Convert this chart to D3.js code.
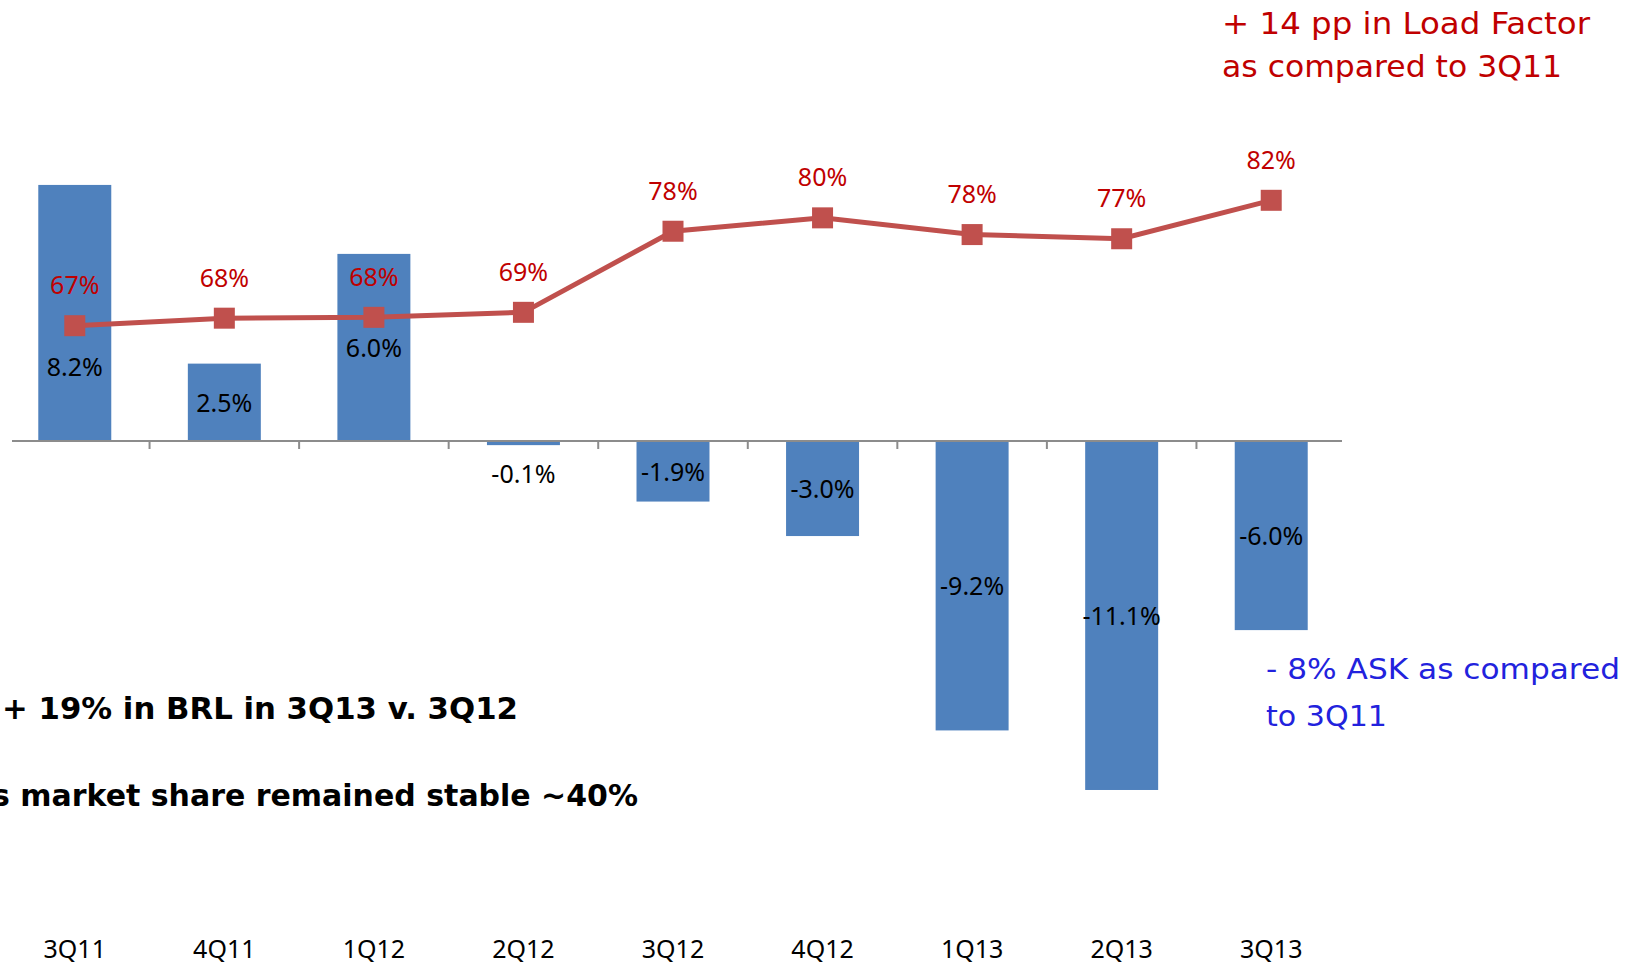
<!DOCTYPE html>
<html><head><meta charset="utf-8">
<script src="https://cdn.jsdelivr.net/npm/d3@7"></script>
<style>body{margin:0;background:#fff;overflow:hidden}</style>
</head><body>
<svg id="chart" width="1641" height="965"></svg>
<script>
// ---- data ----
const categories = ["3Q11","4Q11","1Q12","2Q12","3Q12","4Q12","1Q13","2Q13","3Q13"];
const askChange = [8.2, 2.5, 6.0, -0.1, -1.9, -3.0, -9.2, -11.1, -6.0];
const loadFactor = [67.0, 67.9, 68.0, 68.6, 78.3, 79.9, 77.9, 77.4, 82.0];
const annotationLF = ["+ 14 pp in Load Factor", "as compared to 3Q11"];
const annotationASK = ["- 8% ASK as compared", "to 3Q11"];
const notes = ["+ 19% in BRL in 3Q13 v. 3Q12", "s market share remained stable ~40%"];

// ---- setup ----
const svg = d3.select("#chart");
const loc = d3.formatLocale({decimal: ".", thousands: ",", grouping: [3], currency: ["$", ""], minus: "-"});
const fmtBar = v => loc.format(".1f")(v) + "%";
const fmtLine = v => loc.format(".0f")(v) + "%";

const x = d3.scaleBand().domain(categories).range([0, 1346]).paddingInner(0.512).paddingOuter(0.256);
const yBar = d3.scaleLinear().domain([-12, 9]).range([818.2, 159.85]);
const yLine = d3.scaleLinear().domain([67, 82]).range([325.7, 200.3]);
const cx = c => x(c) + x.bandwidth() / 2;
const y0 = yBar(0);

const barData = categories.map((c, i) => ({c, v: askChange[i], lf: loadFactor[i]}));

// bars
svg.append("g").selectAll("rect").data(barData).join("rect")
  .attr("x", d => x(d.c))
  .attr("width", x.bandwidth())
  .attr("y", d => Math.min(yBar(d.v), y0))
  .attr("height", d => Math.abs(yBar(d.v) - y0))
  .attr("fill", "#4f81bd");

// axis line + ticks between categories
const axisG = svg.append("g");
axisG.append("line").attr("x1", 12).attr("x2", 1342).attr("y1", y0 - 1).attr("y2", y0 - 1)
  .attr("stroke", "#8c8c8c").attr("stroke-width", 2);
const gap = (x.step() - x.bandwidth()) / 2;
axisG.selectAll("line.tick").data(categories.slice(1)).join("line").attr("class", "tick")
  .attr("x1", c => x(c) - gap).attr("x2", c => x(c) - gap)
  .attr("y1", y0 - 1).attr("y2", y0 + 7)
  .attr("stroke", "#8c8c8c").attr("stroke-width", 2);

// category labels
svg.append("g").selectAll("text").data(categories).join("text")
  .attr("x", cx).attr("y", 958)
  .attr("text-anchor", "middle")
  .attr("font-family", "'Noto Sans', sans-serif").attr("font-size", 25)
  .attr("fill", "#000")
  .text(c => c);

// bar labels
svg.append("g").selectAll("text").data(barData).join("text")
  .attr("x", d => cx(d.c))
  .attr("y", d => {
    const h = Math.abs(yBar(d.v) - y0);
    let mid = (yBar(d.v) + y0) / 2;
    if (h < 30) mid = y0 + 32;
    if (Math.abs(mid - yLine(d.lf)) < 25) mid = yLine(d.lf) + 41;
    return mid + 9;
  })
  .attr("text-anchor", "middle")
  .attr("font-family", "'Noto Sans', sans-serif").attr("font-size", 25)
  .attr("fill", "#000")
  .text(d => fmtBar(d.v));

// load factor line
svg.append("path").datum(barData)
  .attr("d", d3.line().x(d => cx(d.c)).y(d => yLine(d.lf)))
  .attr("fill", "none").attr("stroke", "#c0504d").attr("stroke-width", 5);
svg.append("g").selectAll("rect").data(barData).join("rect")
  .attr("x", d => cx(d.c) - 10.5).attr("y", d => yLine(d.lf) - 10.5)
  .attr("width", 21).attr("height", 21)
  .attr("fill", "#c0504d");
svg.append("g").selectAll("text").data(barData).join("text")
  .attr("x", d => cx(d.c)).attr("y", d => yLine(d.lf) - 31.5)
  .attr("text-anchor", "middle")
  .attr("font-family", "'Noto Sans', sans-serif").attr("font-size", 25)
  .attr("fill", "#c00000")
  .text(d => fmtLine(d.lf));

// annotations
const ann = svg.append("g").attr("font-family", "'DejaVu Sans', sans-serif");
ann.append("text").attr("x", 1222).attr("y", 34).attr("font-size", 31).attr("fill", "#c00000")
  .attr("textLength", 368).attr("lengthAdjust", "spacingAndGlyphs").text(annotationLF[0]);
ann.append("text").attr("x", 1222).attr("y", 77).attr("font-size", 31).attr("fill", "#c00000")
  .attr("textLength", 340).attr("lengthAdjust", "spacingAndGlyphs").text(annotationLF[1]);
ann.append("text").attr("x", 1266).attr("y", 679).attr("font-size", 29).attr("fill", "#2222dd")
  .attr("textLength", 354).attr("lengthAdjust", "spacingAndGlyphs").text(annotationASK[0]);
ann.append("text").attr("x", 1266).attr("y", 726).attr("font-size", 29).attr("fill", "#2222dd")
  .attr("textLength", 121).attr("lengthAdjust", "spacingAndGlyphs").text(annotationASK[1]);
ann.append("text").attr("x", 2).attr("y", 719).attr("font-size", 30).attr("font-weight", "bold").attr("fill", "#000")
  .attr("textLength", 516).attr("lengthAdjust", "spacingAndGlyphs").text(notes[0]);
ann.append("text").attr("x", -8).attr("y", 806).attr("font-size", 30).attr("font-weight", "bold").attr("fill", "#000")
  .attr("textLength", 646).attr("lengthAdjust", "spacingAndGlyphs").text(notes[1]);
</script>
</body></html>
